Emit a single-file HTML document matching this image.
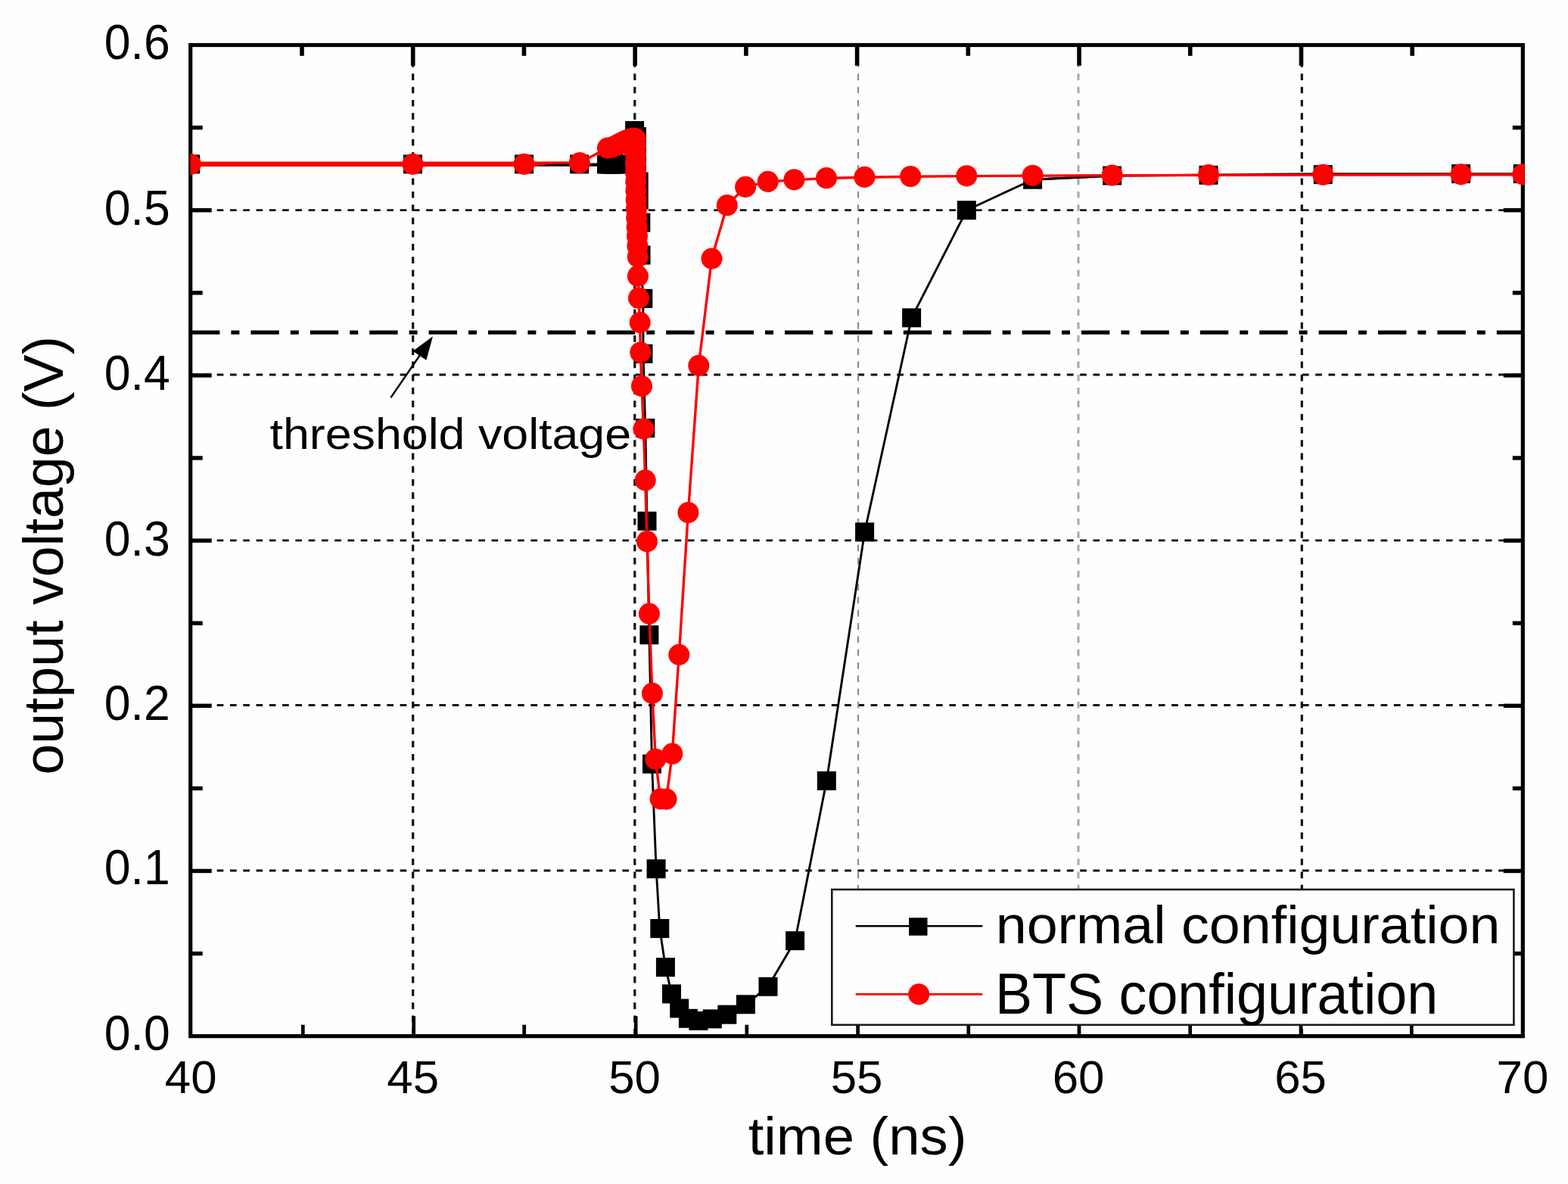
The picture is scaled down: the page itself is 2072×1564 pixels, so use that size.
<!DOCTYPE html>
<html lang="en">
<head>
<meta charset="utf-8">
<title>Output voltage vs time</title>
<style>
html,body{margin:0;padding:0;background:#fefefe;}
body{width:2072px;height:1564px;overflow:hidden;}
svg{display:block;}
</style>
</head>
<body>
<svg width="2072" height="1564" viewBox="0 0 2072 1564" role="img" aria-label="Output voltage versus time" font-family="'Liberation Sans', sans-serif" fill="#000">
<rect width="2072" height="1564" fill="#fefefe"/>
<defs><clipPath id="pc"><rect x="251.70" y="59.50" width="1762.90" height="1309.20"/></clipPath></defs>
<g fill="none" stroke-dasharray="8.7 8.58">
<line x1="252.1" y1="1150.00" x2="2012.30" y2="1150.00" stroke="#111" stroke-width="2.8"/>
<line x1="252.1" y1="931.50" x2="2012.30" y2="931.50" stroke="#111" stroke-width="2.8"/>
<line x1="252.1" y1="713.80" x2="2012.30" y2="713.80" stroke="#111" stroke-width="2.8"/>
<line x1="252.1" y1="495.00" x2="2012.30" y2="495.00" stroke="#111" stroke-width="2.8"/>
<line x1="252.1" y1="277.70" x2="2012.30" y2="277.70" stroke="#111" stroke-width="2.8"/>
<line x1="545.70" y1="62.80" x2="545.70" y2="1368.70" stroke="#111" stroke-width="3.2"/>
<line x1="838.80" y1="62.80" x2="838.80" y2="1368.70" stroke="#111" stroke-width="3.2"/>
<line x1="1134.00" y1="62.80" x2="1134.00" y2="1368.70" stroke="#8c8c8c" stroke-width="2.2"/>
<line x1="1425.00" y1="62.80" x2="1425.00" y2="1368.70" stroke="#a8a8a8" stroke-width="3.0"/>
<line x1="1720.30" y1="62.80" x2="1720.30" y2="1368.70" stroke="#111" stroke-width="3.2"/>
</g>
<rect x="251.70" y="59.50" width="1760.60" height="1309.20" fill="none" stroke="#000" stroke-width="5.2"/>
<g stroke="#000" fill="none">
<line x1="400.30" y1="1368.70" x2="400.30" y2="1353.70" stroke-width="4.7"/>
<line x1="399.02" y1="59.50" x2="399.02" y2="73.80" stroke-width="5.6"/>
<line x1="546.70" y1="1368.70" x2="546.70" y2="1342.20" stroke-width="4.7"/>
<line x1="545.73" y1="59.50" x2="545.73" y2="86.80" stroke-width="5.6"/>
<line x1="692.70" y1="1368.70" x2="692.70" y2="1353.70" stroke-width="4.7"/>
<line x1="692.45" y1="59.50" x2="692.45" y2="73.80" stroke-width="5.6"/>
<line x1="840.20" y1="1368.70" x2="840.20" y2="1342.20" stroke-width="4.7"/>
<line x1="839.17" y1="59.50" x2="839.17" y2="86.80" stroke-width="5.6"/>
<line x1="986.80" y1="1368.70" x2="986.80" y2="1353.70" stroke-width="4.7"/>
<line x1="985.88" y1="59.50" x2="985.88" y2="73.80" stroke-width="5.6"/>
<line x1="1133.60" y1="1368.70" x2="1133.60" y2="1342.20" stroke-width="4.7"/>
<line x1="1132.60" y1="59.50" x2="1132.60" y2="86.80" stroke-width="5.6"/>
<line x1="1279.80" y1="1368.70" x2="1279.80" y2="1353.70" stroke-width="4.7"/>
<line x1="1279.32" y1="59.50" x2="1279.32" y2="73.80" stroke-width="5.6"/>
<line x1="1426.00" y1="1368.70" x2="1426.00" y2="1342.20" stroke-width="4.7"/>
<line x1="1426.03" y1="59.50" x2="1426.03" y2="86.80" stroke-width="5.6"/>
<line x1="1572.70" y1="1368.70" x2="1572.70" y2="1353.70" stroke-width="4.7"/>
<line x1="1572.75" y1="59.50" x2="1572.75" y2="73.80" stroke-width="5.6"/>
<line x1="1719.00" y1="1368.70" x2="1719.00" y2="1342.20" stroke-width="4.7"/>
<line x1="1719.47" y1="59.50" x2="1719.47" y2="86.80" stroke-width="5.6"/>
<line x1="1865.30" y1="1368.70" x2="1865.30" y2="1353.70" stroke-width="4.7"/>
<line x1="1866.18" y1="59.50" x2="1866.18" y2="73.80" stroke-width="5.6"/>
<line x1="251.70" y1="1259.60" x2="267.70" y2="1259.60" stroke-width="5.4"/>
<line x1="2012.30" y1="1259.60" x2="1998.80" y2="1259.60" stroke-width="5.4"/>
<line x1="251.70" y1="1150.50" x2="279.70" y2="1150.50" stroke-width="5.4"/>
<line x1="2012.30" y1="1150.50" x2="1986.80" y2="1150.50" stroke-width="5.4"/>
<line x1="251.70" y1="1041.40" x2="267.70" y2="1041.40" stroke-width="5.4"/>
<line x1="2012.30" y1="1041.40" x2="1998.80" y2="1041.40" stroke-width="5.4"/>
<line x1="251.70" y1="932.30" x2="279.70" y2="932.30" stroke-width="5.4"/>
<line x1="2012.30" y1="932.30" x2="1986.80" y2="932.30" stroke-width="5.4"/>
<line x1="251.70" y1="823.20" x2="267.70" y2="823.20" stroke-width="5.4"/>
<line x1="2012.30" y1="823.20" x2="1998.80" y2="823.20" stroke-width="5.4"/>
<line x1="251.70" y1="714.10" x2="279.70" y2="714.10" stroke-width="5.4"/>
<line x1="2012.30" y1="714.10" x2="1986.80" y2="714.10" stroke-width="5.4"/>
<line x1="251.70" y1="605.00" x2="267.70" y2="605.00" stroke-width="5.4"/>
<line x1="2012.30" y1="605.00" x2="1998.80" y2="605.00" stroke-width="5.4"/>
<line x1="251.70" y1="495.90" x2="279.70" y2="495.90" stroke-width="5.4"/>
<line x1="2012.30" y1="495.90" x2="1986.80" y2="495.90" stroke-width="5.4"/>
<line x1="251.70" y1="386.80" x2="267.70" y2="386.80" stroke-width="5.4"/>
<line x1="2012.30" y1="386.80" x2="1998.80" y2="386.80" stroke-width="5.4"/>
<line x1="251.70" y1="277.70" x2="279.70" y2="277.70" stroke-width="5.4"/>
<line x1="2012.30" y1="277.70" x2="1986.80" y2="277.70" stroke-width="5.4"/>
<line x1="251.70" y1="168.60" x2="267.70" y2="168.60" stroke-width="5.4"/>
<line x1="2012.30" y1="168.60" x2="1998.80" y2="168.60" stroke-width="5.4"/>
</g>
<line x1="253.0" y1="439.1" x2="2012.30" y2="439.1" stroke="#000" stroke-width="5.4" stroke-dasharray="37.4 15 11 15"/>
<line x1="516.4" y1="525.2" x2="556.72" y2="466.46" stroke="#000" stroke-width="2.4"/>
<polygon points="572.00,444.20 563.36,475.87 545.55,463.65" fill="#000"/>
<text transform="translate(356.46,593.10) scale(1.0911,1)" font-size="57.5" >threshold voltage</text>
<g clip-path="url(#pc)">
<polyline fill="none" stroke="#000" stroke-width="4.2" points="251.7,217.6 826.0,217.6"/>
<polyline fill="none" stroke="#000" stroke-width="2.9" stroke-linejoin="round" points="814.5,217.0 838.6,172.5 841.4,180.5 841.4,198.0 841.4,215.0 844.2,240.0 844.2,264.0 846.8,294.0 847.0,337.0 849.8,394.3 850.0,467.3 852.8,565.5 855.0,688.3 857.9,838.7 861.5,1009.2 867.1,1147.7 871.8,1226.5 879.4,1277.7 887.5,1312.9 897.7,1332.0 909.4,1345.3 922.9,1348.5 941.3,1345.9 960.8,1340.2 985.4,1326.8 1015.0,1303.3 1050.6,1242.7 1092.3,1031.4 1142.6,702.8 1204.6,419.8 1277.3,277.7 1364.6,237.2 1469.6,232.0"/>
<polyline fill="none" stroke="#000" stroke-width="2.9" stroke-linejoin="round" points="1364.6,237.2 1469.6,232.2 1597.0,231.3 1673.0,230.1 1748.3,229.7 1930.6,229.6 2016.0,229.6"/>
<g fill="#000">
<rect x="239.2" y="204.4" width="25.0" height="25.0"/>
<rect x="533.0" y="204.4" width="25.0" height="25.0"/>
<rect x="680.0" y="204.4" width="25.0" height="25.0"/>
<rect x="753.1" y="204.4" width="25.0" height="25.0"/>
<rect x="789.0" y="204.5" width="25.0" height="25.0"/>
<rect x="794.0" y="204.5" width="25.0" height="25.0"/>
<rect x="798.5" y="204.5" width="25.0" height="25.0"/>
<rect x="802.0" y="204.5" width="25.0" height="25.0"/>
<rect x="826.1" y="160.0" width="25.0" height="25.0"/>
<rect x="828.9" y="168.0" width="25.0" height="25.0"/>
<rect x="828.9" y="185.5" width="25.0" height="25.0"/>
<rect x="828.9" y="202.5" width="25.0" height="25.0"/>
<rect x="831.7" y="227.5" width="25.0" height="25.0"/>
<rect x="831.7" y="251.5" width="25.0" height="25.0"/>
<rect x="834.3" y="281.5" width="25.0" height="25.0"/>
<rect x="834.5" y="324.5" width="25.0" height="25.0"/>
<rect x="837.3" y="381.8" width="25.0" height="25.0"/>
<rect x="837.5" y="454.8" width="25.0" height="25.0"/>
<rect x="840.3" y="553.0" width="25.0" height="25.0"/>
<rect x="842.5" y="675.8" width="25.0" height="25.0"/>
<rect x="845.4" y="826.2" width="25.0" height="25.0"/>
<rect x="849.0" y="996.7" width="25.0" height="25.0"/>
<rect x="854.6" y="1135.2" width="25.0" height="25.0"/>
<rect x="859.3" y="1214.0" width="25.0" height="25.0"/>
<rect x="866.9" y="1265.2" width="25.0" height="25.0"/>
<rect x="875.0" y="1300.4" width="25.0" height="25.0"/>
<rect x="885.2" y="1319.5" width="25.0" height="25.0"/>
<rect x="896.9" y="1332.8" width="25.0" height="25.0"/>
<rect x="910.4" y="1336.0" width="25.0" height="25.0"/>
<rect x="928.8" y="1333.4" width="25.0" height="25.0"/>
<rect x="948.3" y="1327.7" width="25.0" height="25.0"/>
<rect x="972.9" y="1314.3" width="25.0" height="25.0"/>
<rect x="1002.5" y="1290.8" width="25.0" height="25.0"/>
<rect x="1038.1" y="1230.2" width="25.0" height="25.0"/>
<rect x="1079.8" y="1018.9" width="25.0" height="25.0"/>
<rect x="1130.1" y="690.3" width="25.0" height="25.0"/>
<rect x="1192.1" y="407.3" width="25.0" height="25.0"/>
<rect x="1264.8" y="265.2" width="25.0" height="25.0"/>
<rect x="1352.1" y="224.7" width="25.0" height="25.0"/>
<rect x="1457.1" y="219.5" width="25.0" height="25.0"/>
<rect x="1584.5" y="218.8" width="25.0" height="25.0"/>
<rect x="1735.8" y="218.1" width="25.0" height="25.0"/>
<rect x="1918.1" y="217.1" width="25.0" height="25.0"/>
<rect x="1999.8" y="217.1" width="25.0" height="25.0"/>
</g>
<polygon fill="#f00" points="251.7,213.5 700,213.5 766,213.3 766,216.6 730,216.8 700,219.8 251.7,219.8"/>
<polyline fill="none" stroke="#f00" stroke-width="3.4" stroke-linejoin="round" points="765.8,214.9 802.9,195.6 808.5,194.6 813.5,192.5 818.5,189.8 823.5,187.3 828.5,185.2 833.0,183.6 836.5,182.7 839.6,183.0 839.8,192.0 839.9,204.0 840.0,216.0 840.1,228.0 840.2,240.0 840.4,252.0 840.6,264.0 840.9,276.0 841.2,288.0 841.6,300.0 842.0,312.0 842.4,325.0 842.8,339.3 842.9,364.7 844.0,393.7 845.7,426.1 846.3,465.5 848.0,510.0 850.4,566.6 852.7,634.4 855.0,715.2 857.9,810.7 861.9,915.9 866.3,1002.8 872.6,1055.3 880.6,1055.6 888.3,995.7 897.3,864.9 909.4,677.0 923.3,482.9 940.5,341.6 960.8,271.2 985.1,246.9 1014.7,240.2 1049.4,237.6 1092.0,235.5 1142.4,234.2 1203.2,233.3 1277.3,232.6 1364.6,232.1 1469.6,231.8 1597.0,231.3 1748.3,231.1 1930.6,230.7 2016.0,230.7"/>
<g fill="#f00">
<ellipse cx="837.0" cy="197.0" rx="14.0" ry="14.1"/>
<ellipse cx="251.7" cy="216.9" rx="14.0" ry="14.1"/>
<ellipse cx="545.5" cy="216.9" rx="14.0" ry="14.1"/>
<ellipse cx="692.5" cy="216.9" rx="14.0" ry="14.1"/>
<ellipse cx="765.8" cy="215.2" rx="14.0" ry="14.1"/>
<ellipse cx="802.9" cy="195.6" rx="14.0" ry="14.1"/>
<ellipse cx="808.5" cy="194.6" rx="14.0" ry="14.1"/>
<ellipse cx="813.5" cy="192.5" rx="14.0" ry="14.1"/>
<ellipse cx="818.5" cy="189.8" rx="14.0" ry="14.1"/>
<ellipse cx="823.5" cy="187.3" rx="14.0" ry="14.1"/>
<ellipse cx="828.5" cy="185.2" rx="14.0" ry="14.1"/>
<ellipse cx="833.0" cy="183.6" rx="14.0" ry="14.1"/>
<ellipse cx="836.5" cy="182.7" rx="14.0" ry="14.1"/>
<ellipse cx="839.6" cy="183.0" rx="14.0" ry="14.1"/>
<ellipse cx="839.8" cy="192.0" rx="14.0" ry="14.1"/>
<ellipse cx="839.9" cy="204.0" rx="14.0" ry="14.1"/>
<ellipse cx="840.0" cy="216.0" rx="14.0" ry="14.1"/>
<ellipse cx="840.1" cy="228.0" rx="14.0" ry="14.1"/>
<ellipse cx="840.2" cy="240.0" rx="14.0" ry="14.1"/>
<ellipse cx="840.4" cy="252.0" rx="14.0" ry="14.1"/>
<ellipse cx="840.6" cy="264.0" rx="14.0" ry="14.1"/>
<ellipse cx="840.9" cy="276.0" rx="14.0" ry="14.1"/>
<ellipse cx="841.2" cy="288.0" rx="14.0" ry="14.1"/>
<ellipse cx="841.6" cy="300.0" rx="14.0" ry="14.1"/>
<ellipse cx="842.0" cy="312.0" rx="14.0" ry="14.1"/>
<ellipse cx="842.4" cy="325.0" rx="14.0" ry="14.1"/>
<ellipse cx="842.8" cy="339.3" rx="14.0" ry="14.1"/>
<ellipse cx="842.9" cy="364.7" rx="14.0" ry="14.1"/>
<ellipse cx="844.0" cy="393.7" rx="14.0" ry="14.1"/>
<ellipse cx="845.7" cy="426.1" rx="14.0" ry="14.1"/>
<ellipse cx="846.3" cy="465.5" rx="14.0" ry="14.1"/>
<ellipse cx="848.0" cy="510.0" rx="14.0" ry="14.1"/>
<ellipse cx="850.4" cy="566.6" rx="14.0" ry="14.1"/>
<ellipse cx="852.7" cy="634.4" rx="14.0" ry="14.1"/>
<ellipse cx="855.0" cy="715.2" rx="14.0" ry="14.1"/>
<ellipse cx="857.9" cy="810.7" rx="14.0" ry="14.1"/>
<ellipse cx="861.9" cy="915.9" rx="14.0" ry="14.1"/>
<ellipse cx="866.3" cy="1002.8" rx="14.0" ry="14.1"/>
<ellipse cx="872.6" cy="1055.3" rx="14.0" ry="14.1"/>
<ellipse cx="880.6" cy="1055.6" rx="14.0" ry="14.1"/>
<ellipse cx="888.3" cy="995.7" rx="14.0" ry="14.1"/>
<ellipse cx="897.3" cy="864.9" rx="14.0" ry="14.1"/>
<ellipse cx="909.4" cy="677.0" rx="14.0" ry="14.1"/>
<ellipse cx="923.3" cy="482.9" rx="14.0" ry="14.1"/>
<ellipse cx="940.5" cy="341.6" rx="14.0" ry="14.1"/>
<ellipse cx="960.8" cy="271.2" rx="14.0" ry="14.1"/>
<ellipse cx="985.1" cy="246.9" rx="14.0" ry="14.1"/>
<ellipse cx="1014.7" cy="239.9" rx="14.0" ry="14.1"/>
<ellipse cx="1049.4" cy="237.3" rx="14.0" ry="14.1"/>
<ellipse cx="1092.0" cy="235.2" rx="14.0" ry="14.1"/>
<ellipse cx="1142.4" cy="233.9" rx="14.0" ry="14.1"/>
<ellipse cx="1203.2" cy="233.0" rx="14.0" ry="14.1"/>
<ellipse cx="1277.3" cy="232.3" rx="14.0" ry="14.1"/>
<ellipse cx="1364.6" cy="231.8" rx="14.0" ry="14.1"/>
<ellipse cx="1469.6" cy="231.5" rx="14.0" ry="14.1"/>
<ellipse cx="1597.0" cy="231.0" rx="14.0" ry="14.1"/>
<ellipse cx="1748.3" cy="230.8" rx="14.0" ry="14.1"/>
<ellipse cx="1930.6" cy="230.4" rx="14.0" ry="14.1"/>
<ellipse cx="2012.3" cy="230.4" rx="14.0" ry="14.1"/>
</g>
</g>
<rect x="1099.3" y="1175.0" width="901.1" height="178.8" fill="#fefefe" stroke="#1c1c1c" stroke-width="2.6"/>
<line x1="1130.7" y1="1223.2" x2="1298.4" y2="1223.2" stroke="#000" stroke-width="2.6"/>
<rect x="1201.1" y="1212.3" width="24.4" height="23.5" fill="#000"/>
<line x1="1130.7" y1="1313.4" x2="1298.4" y2="1313.4" stroke="#f00" stroke-width="2.6"/>
<ellipse cx="1214.2" cy="1313.4" rx="14.0" ry="14.1" fill="#f00"/>
<text transform="translate(1315.74,1246.20) scale(1.0363,1)" font-size="71" >normal configuration</text>
<text transform="translate(1314.96,1338.50) scale(0.9753,1)" font-size="75.5" >BTS configuration</text>
<text transform="translate(137.76,1386.90) scale(0.9703,1)" font-size="64.5" >0.0</text>
<text transform="translate(137.76,1168.10) scale(0.9703,1)" font-size="64.5" >0.1</text>
<text transform="translate(137.76,950.50) scale(0.9703,1)" font-size="64.5" >0.2</text>
<text transform="translate(137.76,734.10) scale(0.9703,1)" font-size="64.5" >0.3</text>
<text transform="translate(137.76,515.10) scale(0.9703,1)" font-size="64.5" >0.4</text>
<text transform="translate(137.76,297.20) scale(0.9703,1)" font-size="64.5" >0.5</text>
<text transform="translate(137.76,78.10) scale(0.9703,1)" font-size="64.5" >0.6</text>
<text transform="translate(217.83,1443.90) scale(1.0050,1)" font-size="61.5" >40</text>
<text transform="translate(511.35,1443.90) scale(1.0050,1)" font-size="61.5" >45</text>
<text transform="translate(804.17,1443.90) scale(1.0050,1)" font-size="61.5" >50</text>
<text transform="translate(1097.70,1443.90) scale(1.0050,1)" font-size="61.5" >55</text>
<text transform="translate(1390.70,1443.90) scale(1.0050,1)" font-size="61.5" >60</text>
<text transform="translate(1684.22,1443.90) scale(1.0050,1)" font-size="61.5" >65</text>
<text transform="translate(1977.56,1443.90) scale(1.0050,1)" font-size="61.5" >70</text>
<text transform="translate(988.69,1525.20) scale(1.0456,1)" font-size="71" >time (ns)</text>
<text transform="rotate(-90) translate(-1023.58,82.80) scale(0.9923,1)" font-size="74" >output voltage (V)</text>
</svg>
</body>
</html>
